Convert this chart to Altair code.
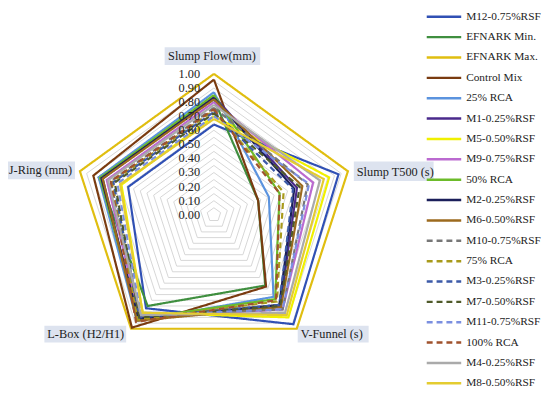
import altair as alt
import pandas as pd

# ---------------- data ----------------
axis_names = ["Slump Flow(mm)", "Slump T500 (s)", "V-Funnel (s)", "L-Box (H2/H1)", "J-Ring (mm)"]

series_names = ["M12-0.75%RSF", "EFNARK Min.", "EFNARK Max.", "Control Mix", "25% RCA",
                "M1-0.25%RSF", "M5-0.50%RSF", "M9-0.75%RSF", "50% RCA", "M2-0.25%RSF",
                "M6-0.50%RSF", "M10-0.75%RSF", "75% RCA", "M3-0.25%RSF", "M7-0.50%RSF",
                "M11-0.75%RSF", "100% RCA", "M4-0.25%RSF", "M8-0.50%RSF"]

slump_flow = [0.64, 0.82, 1.00, 0.96, 0.87, 0.84, 0.70, 0.80, 0.85, 0.83,
              0.82, 0.76, 0.74, 0.73, 0.72, 0.70, 0.75, 0.78, 0.68]
slump_t500 = [0.93, 0.33, 1.00, 0.33, 0.41, 0.62, 0.86, 0.74, 0.49, 0.60,
              0.66, 0.70, 0.52, 0.59, 0.64, 0.71, 0.49, 0.79, 0.82]
v_funnel = [0.96, 0.62, 1.00, 0.63, 0.72, 0.80, 0.90, 0.83, 0.74, 0.79,
            0.81, 0.83, 0.76, 0.79, 0.80, 0.83, 0.75, 0.86, 0.88]
l_box = [0.82, 0.80, 1.00, 0.99, 0.93, 0.92, 0.86, 0.90, 0.91, 0.91,
         0.93, 0.89, 0.92, 0.90, 0.90, 0.88, 0.94, 0.88, 0.86]
j_ring = [0.64, 0.86, 1.00, 0.90, 0.86, 0.83, 0.69, 0.80, 0.85, 0.84,
          0.83, 0.77, 0.76, 0.75, 0.74, 0.72, 0.77, 0.79, 0.70]

tick_labels = ["0.00", "0.10", "0.20", "0.30", "0.40", "0.50",
               "0.60", "0.70", "0.80", "0.90", "1.00"]
tick_values = [0.0, 0.1, 0.2, 0.3, 0.4, 0.5, 0.6, 0.7, 0.8, 0.9, 1.0]
grid_levels = [0.05, 0.10, 0.15, 0.20, 0.25, 0.30, 0.35, 0.40, 0.45, 0.50,
               0.55, 0.60, 0.65, 0.70, 0.75, 0.80, 0.85, 0.90, 0.95, 1.00]

# ---------------- styles ----------------
colors = ["#3050b4", "#3f8f3f", "#e0be10", "#7a3b10", "#5b93de",
          "#4a2a8c", "#f0f000", "#bb6ad0", "#6cbb2a", "#1b1f5a",
          "#9c6a1e", "#777777", "#a89a1a", "#3c5aa8", "#4f5a2a",
          "#7b8fe0", "#a0522d", "#aaaaaa", "#e4cc30"]
solid = [1, 0]
dash = [6, 4]
dashes = [solid] * 11 + [dash] * 6 + [solid, solid]
widths = [2.2, 2.2, 2.8] + [2.2] * 16

FONT = "Liberation Serif"
R = 143.0           # pixels per unit radius
CX, CY = 217, 215   # page coords of centre
W, H = 542, 387
xs = alt.Scale(domain=[-(CX - 8) / R, (8 + W - CX) / R], nice=False, zero=False)
ys = alt.Scale(domain=[-(8 + H - CY) / R, (CY - 8) / R], nice=False, zero=False)
PI = 3.141592653589793

# ---------------- tables ----------------
rows = []
cols = [slump_flow, slump_t500, v_funnel, l_box, j_ring]
for i, s in enumerate(series_names):
    for k in range(6):
        rows.append({"series": s, "sidx": i, "k": k, "value": cols[k % 5][i]})
df = pd.DataFrame(rows)

grows = []
for lv in grid_levels:
    for k in range(6):
        grows.append({"level": lv, "k": k, "value": lv})
dfg = pd.DataFrame(grows)

dft = pd.DataFrame({"label": tick_labels, "value": tick_values})
dfl = pd.DataFrame({"series": series_names, "idx": list(range(len(series_names)))})

polar = dict(px=f"datum.value*sin(datum.k*2*{PI}/5)", py=f"datum.value*cos(datum.k*2*{PI}/5)")

color_scale = alt.Scale(domain=series_names, range=colors)
dash_scale = alt.Scale(domain=series_names, range=dashes)
width_scale = alt.Scale(domain=series_names, range=widths)

grid = alt.Chart(dfg).transform_calculate(**polar).mark_line(
    color="#d6d6d6", strokeWidth=1
).encode(
    x=alt.X("px:Q", scale=xs, axis=None),
    y=alt.Y("py:Q", scale=ys, axis=None),
    detail="level:N",
    order="k:Q",
)

lines = alt.Chart(df).transform_calculate(**polar).mark_line().encode(
    x=alt.X("px:Q", scale=xs, axis=None),
    y=alt.Y("py:Q", scale=ys, axis=None),
    color=alt.Color("series:N", scale=color_scale, legend=None),
    strokeDash=alt.StrokeDash("series:N", scale=dash_scale, legend=None),
    strokeWidth=alt.StrokeWidth("series:N", scale=width_scale, legend=None),
    order="k:Q",
)

ticks = alt.Chart(dft).mark_text(
    align="right", baseline="middle", dx=-14, font=FONT, fontSize=12.5, color="#222222"
).encode(
    x=alt.value(CX - 8),
    y=alt.Y("value:Q", scale=ys, axis=None),
    text="label:N",
)

# axis label boxes: (left, right, top, bottom) pixel offsets from vertex, text dx, dy, align
label_style = [
    (-50, 47, -27, -9, -2, -18, "center"),
    (6, 87, -10, 10, 9, 1, "left"),
    (1, 73, -3, 14, 4, 5, "left"),
    (-88, -5, -3, 14, -7, 5, "right"),
    (-78, -5, -10, 8, -8, -1, "right"),
]
label_layers = []
for k, name in enumerate(axis_names):
    l, r, t, b, dx, dy, al = label_style[k]
    d = pd.DataFrame({"name": [name], "k": [k], "value": [1.0]})
    base = alt.Chart(d).transform_calculate(**polar)
    rect = base.transform_calculate(
        x1=f"datum.px + {l}/{R}", x2=f"datum.px + {r}/{R}",
        y1=f"datum.py - {t}/{R}", y2=f"datum.py - {b}/{R}",
    ).mark_rect(color="#dde3ef").encode(
        x=alt.X("x1:Q", scale=xs, axis=None), x2="x2:Q",
        y=alt.Y("y1:Q", scale=ys, axis=None), y2="y2:Q",
    )
    txt = base.mark_text(
        align=al, baseline="middle", dx=dx, dy=dy, font=FONT, fontSize=12.5, color="#222222"
    ).encode(
        x=alt.X("px:Q", scale=xs, axis=None),
        y=alt.Y("py:Q", scale=ys, axis=None),
        text="name:N",
    )
    label_layers += [rect, txt]

ROW = 20.67
TOP = 14 - 8
leg_base = alt.Chart(dfl).transform_calculate(
    ly=f"{(CY - 8) / R} - ({TOP} + datum.idx*{ROW})/{R}"
)
leg_rules = leg_base.mark_rule(strokeWidth=2.5).encode(
    x=alt.value(425), x2=alt.value(460),
    y=alt.Y("ly:Q", scale=ys, axis=None),
    color=alt.Color("series:N", scale=color_scale, legend=None),
    strokeDash=alt.StrokeDash("series:N", scale=dash_scale, legend=None),
)
leg_text = leg_base.mark_text(
    align="left", baseline="middle", font=FONT, fontSize=11.5, color="#222222"
).encode(
    x=alt.value(465),
    y=alt.Y("ly:Q", scale=ys, axis=None),
    text="series:N",
)

chart = alt.layer(grid, *label_layers, lines, ticks, leg_rules, leg_text).properties(
    width=W, height=H, padding=0, autosize=alt.AutoSizeParams(type="none"),
).configure_view(stroke=None)

chart.save("out.html", embed_options={"renderer": "svg", "actions": False})
